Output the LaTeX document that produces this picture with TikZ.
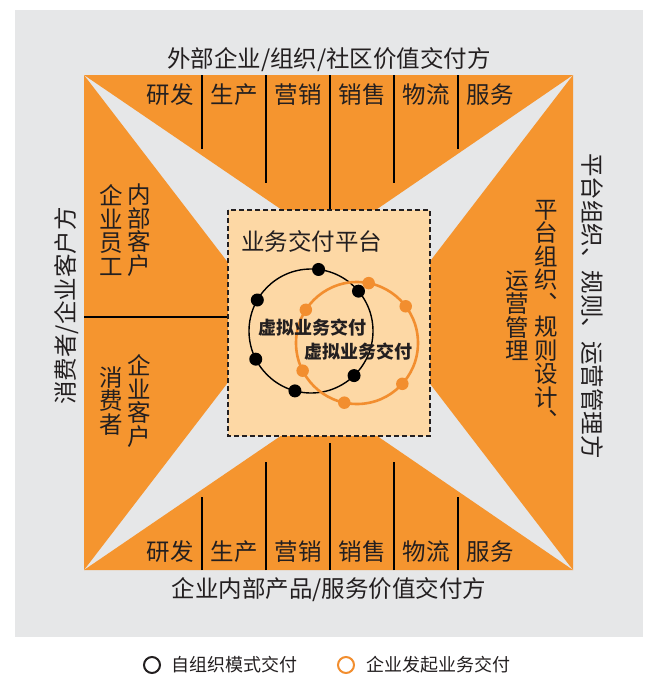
\documentclass[tikz,border=0pt]{standalone}
\usepackage{fontspec}
\usetikzlibrary{calc}
\setmainfont{Noto Sans CJK SC}
\definecolor{bgray}{HTML}{E6E7E8}
\definecolor{org}{HTML}{F5952F}
\definecolor{boxfill}{HTML}{FDD8A5}
\definecolor{ink}{HTML}{231F20}
\definecolor{ocirc}{HTML}{F28E2F}
\begin{document}
\begin{tikzpicture}[x=1pt,y=-1pt,
  txt/.style={text=ink, inner sep=0pt, font=\fontsize{23.5}{23.5}\selectfont},
  vcol/.style={txt, align=center},
  boldtxt/.style={text=ink, inner sep=0pt, font=\fontsize{18}{18}\selectfont\bfseries},
  legtxt/.style={text=ink, inner sep=0pt, anchor=west, font=\fontsize{18}{18}\selectfont},
  divider/.style={draw=black, line width=2pt},
  bdot/.style={circle, fill=black, inner sep=0pt, minimum size=13pt},
  odot/.style={circle, fill=ocirc, inner sep=0pt, minimum size=12.5pt},
  legcirc/.style={circle, line width=2pt, inner sep=0pt, minimum size=16pt},
]
\useasboundingbox (0,0) rectangle (648,678);
% background
\fill[bgray] (15,10) rectangle (643,637);
% orange triangles
\fill[org] (84,75) -- (573,75) -- (329,242) -- cycle;
\fill[org] (84,570) -- (573,570) -- (329,403) -- cycle;
\fill[org] (84,75) -- (274,322.5) -- (84,570) -- cycle;
\fill[org] (573,75) -- (383,322.5) -- (573,570) -- cycle;
% divider lines top
\coordinate (t1a) at (202,75);  \coordinate (t1b) at (202,149);
\coordinate (t2a) at (266,75);  \coordinate (t2b) at (266,183);
\coordinate (t3a) at (330,75);  \coordinate (t3b) at (330,212);
\coordinate (t4a) at (394,75);  \coordinate (t4b) at (394,183);
\coordinate (t5a) at (458,75);  \coordinate (t5b) at (458,149);
\foreach \i in {1,...,5} \draw[divider] (t\i a) -- (t\i b);
% divider lines bottom
\coordinate (b1a) at (202,570); \coordinate (b1b) at (202,497);
\coordinate (b2a) at (266,570); \coordinate (b2b) at (266,462);
\coordinate (b3a) at (330,570); \coordinate (b3b) at (330,443);
\coordinate (b4a) at (394,570); \coordinate (b4b) at (394,462);
\coordinate (b5a) at (458,570); \coordinate (b5b) at (458,497);
\foreach \i in {1,...,5} \draw[divider] (b\i a) -- (b\i b);
% left horizontal divider
\coordinate (la) at (84,317); \coordinate (lb) at (229,317);
\draw[divider] (la) -- (lb);
% platform box
\draw[fill=boxfill, draw=ink, line width=1.2pt, dash pattern=on 5pt off 3pt] (228,210) rectangle (430,436);
\node[txt, anchor=west] (plat) at (241,241) {业务交付平台};
% circles
\coordinate (bc) at (311,331);
\coordinate (oc) at (357,343);
\draw[black, line width=1.4pt] (bc) circle[radius=62];
\draw[ocirc, line width=2.6pt] (oc) circle[radius=61];
\foreach \a [count=\k] in {83,40,150,207,-46,255}
  \node[bdot] (bd\k) at ($(bc)+(\a:62pt)$) {};
\foreach \a [count=\k] in {79,37,147,207,-42,258}
  \node[odot] (od\k) at ($(oc)+(\a:61pt)$) {};
\node[boldtxt] (v1) at (312,328) {虚拟业务交付};
\node[boldtxt] (v2) at (358,352) {虚拟业务交付};
% titles
\node[txt] (toptitle) at (329,60) {外部企业/组织/社区价值交付方};
\node[txt] (bottitle) at (329,590) {企业内部产品/服务价值交付方};
\node[txt, rotate=90] (lefttitle) at (67,306) {消费者/企业客户方};
\node[txt, rotate=-90] (righttitle) at (592,306) {平台组织、规则、运营管理方};
% row labels
\foreach \t/\x [count=\k] in {研发/170,生产/234,营销/298,销售/362,物流/426,服务/490}{
  \node[txt] (tl\k) at (\x,95) {\t};
  \node[txt] (bl\k) at (\x,552) {\t};
}
% vertical columns
\node[vcol] (c1) at (111,230) {企\\业\\员\\工};
\node[vcol] (c2) at (139,230) {内\\部\\客\\户};
\node[vcol] (c3) at (111,401) {消\\费\\者};
\node[vcol] (c4) at (139,401) {企\\业\\客\\户};
\node[vcol] (c5) at (546,315) {平\\台\\组\\织\\︑\\规\\则\\设\\计\\︑};
\node[vcol] (c6) at (517,316) {运\\营\\管\\理};
% legend
\node[legcirc, draw=ink] (lg1) at (152,665) {};
\node[legtxt] (lt1) at (171,665) {自组织模式交付};
\node[legcirc, draw=ocirc] (lg2) at (346,665) {};
\node[legtxt] (lt2) at (366,665) {企业发起业务交付};
\end{tikzpicture}
\end{document}
